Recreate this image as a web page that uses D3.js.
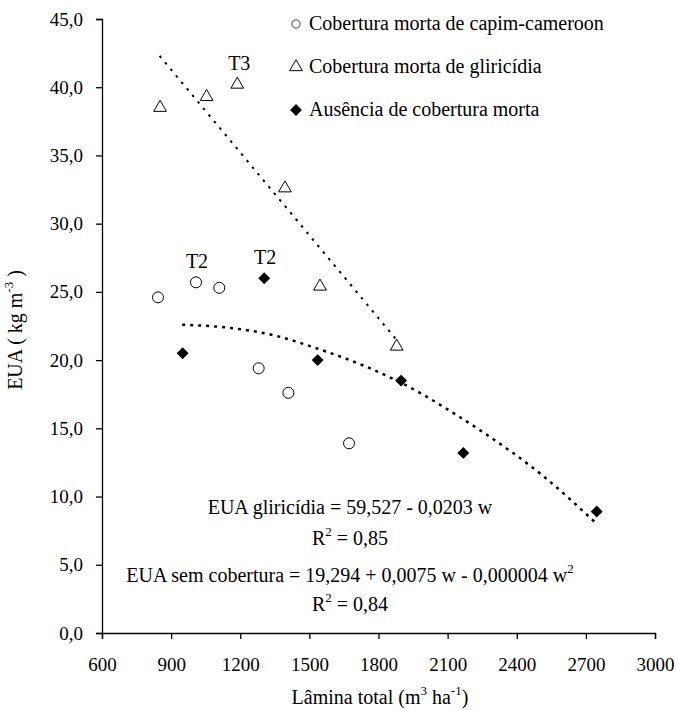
<!DOCTYPE html>
<html>
<head>
    <meta charset="utf-8">
    <title>EUA x Lamina total</title>
    <script src="https://d3js.org/d3.v7.min.js"></script>
    <style>
        body { margin: 0; background: #fff; }
        svg text {
            font-family: "Liberation Serif", "Times New Roman", serif;
            font-size: 20px;
            fill: #000;
        }
        .axis text { font-size: 19px; }
        .axis path, .axis line { stroke: #000; stroke-width: 1.3; }
    </style>
</head>
<body>
    <svg width="676" height="710"></svg>
    <script>
        // Data
        var capimX = [843, 1008, 1109, 1280, 1409, 1672];
        var capimY = [24.6, 25.7, 25.3, 19.4, 17.6, 13.9];

        var gliriX = [852, 1054, 1187, 1394, 1546, 1879];
        var gliriY = [38.5, 39.3, 40.2, 32.6, 25.4, 21.0];

        var semX = [950, 1304, 1536, 1898, 2168, 2747];
        var semY = [20.5, 26.0, 20.0, 18.5, 13.2, 8.9];

        // trend lines
        var gliriTrendX = [850, 1873];
        var gliriTrendY = [42.3, 21.6];
        var semTrendX = [948, 1185, 1351, 1525, 1749, 1980, 2089, 2255, 2515, 2747];
        var semTrendY = [22.6, 22.3, 21.8, 20.9, 19.5, 17.6, 16.5, 14.7, 11.5, 8.0];

        var xTicks = [600, 900, 1200, 1500, 1800, 2100, 2400, 2700, 3000];
        var yTicks = [0, 5, 10, 15, 20, 25, 30, 35, 40, 45];

        var legendLabels = ["Cobertura morta de capim-cameroon",
            "Cobertura morta de gliricídia",
            "Ausência de cobertura morta"];

        var serif = "'Liberation Serif', 'Times New Roman', serif";
        var svg = d3.select("svg");

        var x = d3.scaleLinear().domain([600, 3000]).range([102, 655]);
        var y = d3.scaleLinear().domain([0, 45]).range([633, 19]);

        // axes
        var fmt = function (d) { return d3.format(".1f")(d).replace(".", ","); };

        svg.append("g")
            .attr("class", "axis")
            .attr("transform", "translate(102,0)")
            .call(d3.axisLeft(y).tickValues(yTicks).tickSize(6).tickPadding(13).tickFormat(fmt))
            .attr("font-size", null).attr("font-family", serif);

        svg.append("g")
            .attr("class", "axis")
            .attr("transform", "translate(0,633)")
            .call(d3.axisBottom(x).tickValues(xTicks).tickSize(6).tickPadding(19).tickFormat(d3.format("d")))
            .attr("font-size", null).attr("font-family", serif);

        // axis titles
        var yl = svg.append("text")
            .attr("transform", "translate(22,330) rotate(-90)")
            .attr("text-anchor", "middle");
        yl.append("tspan").text("EUA ( kg  m");
        yl.append("tspan").attr("dy", -9).style("font-size", "13px").text("-3");
        yl.append("tspan").attr("dy", 9).text(" )");

        var xl = svg.append("text")
            .attr("x", 380)
            .attr("y", 704)
            .attr("text-anchor", "middle");
        xl.append("tspan").text("Lâmina total (m");
        xl.append("tspan").attr("dy", -9).style("font-size", "13px").text("3");
        xl.append("tspan").attr("dy", 9).text(" ha");
        xl.append("tspan").attr("dy", -9).style("font-size", "13px").text("-1");
        xl.append("tspan").attr("dy", 9).text(")");

        // trend lines
        var line = d3.line()
            .x(function (d) { return x(d[0]); })
            .y(function (d) { return y(d[1]); });

        svg.append("path")
            .datum(d3.zip(gliriTrendX, gliriTrendY))
            .attr("d", line)
            .attr("fill", "none")
            .attr("stroke", "#000")
            .attr("stroke-width", 2)
            .attr("stroke-dasharray", "2.5,6");

        svg.append("path")
            .datum(d3.zip(semTrendX, semTrendY))
            .attr("d", line.curve(d3.curveMonotoneX))
            .attr("fill", "none")
            .attr("stroke", "#000")
            .attr("stroke-width", 2.5)
            .attr("stroke-dasharray", "3,5");

        // symbols
        var circleSym = d3.symbol().type(d3.symbolCircle).size(95);
        var triSym = d3.symbol().type(d3.symbolTriangle).size(70);
        var diaSym = d3.symbol().type(d3.symbolDiamond2).size(90);

        svg.selectAll(".capim")
            .data(d3.zip(capimX, capimY))
            .enter().append("path")
            .attr("class", "capim")
            .attr("transform", function (d) { return "translate(" + x(d[0]) + "," + y(d[1]) + ")"; })
            .attr("d", circleSym)
            .attr("fill", "#fff")
            .attr("stroke", "#000")
            .attr("stroke-width", 1);

        svg.selectAll(".gliri")
            .data(d3.zip(gliriX, gliriY))
            .enter().append("path")
            .attr("class", "gliri")
            .attr("transform", function (d) { return "translate(" + x(d[0]) + "," + y(d[1]) + ")"; })
            .attr("d", triSym)
            .attr("fill", "#fff")
            .attr("stroke", "#000")
            .attr("stroke-width", 1);

        svg.selectAll(".sem")
            .data(d3.zip(semX, semY))
            .enter().append("path")
            .attr("class", "sem")
            .attr("transform", function (d) { return "translate(" + x(d[0]) + "," + y(d[1]) + ")"; })
            .attr("d", diaSym)
            .attr("fill", "#000");

        // point labels
        svg.append("text").attr("x", x(gliriX[2]) + 2).attr("y", y(gliriY[2]) - 14)
            .attr("text-anchor", "middle").text("T3");
        svg.append("text").attr("x", x(capimX[1]) + 1).attr("y", y(capimY[1]) - 14)
            .attr("text-anchor", "middle").text("T2");
        svg.append("text").attr("x", x(semX[1]) + 1).attr("y", y(semY[1]) - 14)
            .attr("text-anchor", "middle").text("T2");

        // legend
        var legendSyms = [circleSym, triSym, diaSym];
        var legend = svg.selectAll(".legend")
            .data(legendLabels)
            .enter().append("g")
            .attr("class", "legend")
            .attr("transform", function (d, i) { return "translate(296," + (24 + i * 43) + ")"; });

        legend.append("path")
            .attr("d", function (d, i) { return legendSyms[i](); })
            .attr("transform", function (d, i) { return i == 0 ? "scale(0.75)" : null; })
            .attr("fill", function (d, i) { return i == 2 ? "#000" : "#fff"; })
            .attr("stroke", "#000")
            .attr("stroke-width", function (d, i) { return i == 2 ? 0 : 1; });

        legend.append("text")
            .attr("x", 13)
            .attr("y", 6)
            .text(function (d) { return d; });

        // equations
        var eq = svg.append("g").attr("transform", "translate(350,0)");
        eq.append("text").attr("y", 514).attr("text-anchor", "middle")
            .text("EUA gliricídia = 59,527 - 0,0203 w");

        var r1 = eq.append("text").attr("y", 545).attr("text-anchor", "middle");
        r1.append("tspan").text("R");
        r1.append("tspan").attr("dy", -9).style("font-size", "13px").text("2");
        r1.append("tspan").attr("dy", 9).text(" = 0,85");

        var e2 = eq.append("text").attr("y", 582).attr("text-anchor", "middle");
        e2.append("tspan").text("EUA sem cobertura = 19,294 + 0,0075 w - 0,000004 w");
        e2.append("tspan").attr("dy", -9).style("font-size", "13px").text("2");

        var r2 = eq.append("text").attr("y", 611).attr("text-anchor", "middle");
        r2.append("tspan").text("R");
        r2.append("tspan").attr("dy", -9).style("font-size", "13px").text("2");
        r2.append("tspan").attr("dy", 9).text(" = 0,84");
    </script>
</body>
</html>
